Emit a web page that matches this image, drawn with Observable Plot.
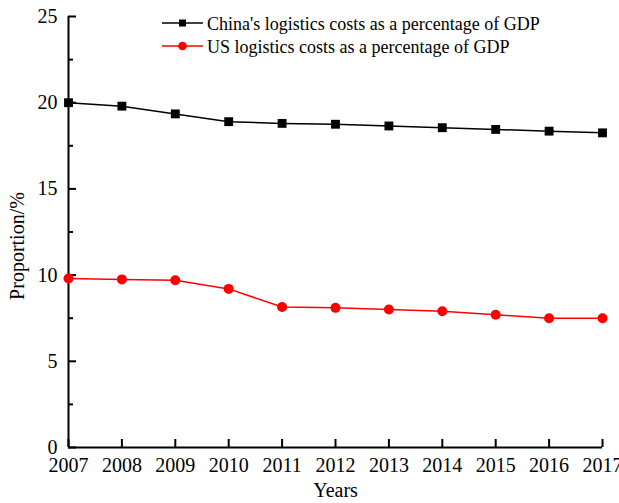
<!DOCTYPE html>
<html>
<head>
<meta charset="utf-8">
<script src="https://cdn.jsdelivr.net/npm/d3@7"></script>
<script src="https://cdn.jsdelivr.net/npm/@observablehq/plot@0.6"></script>
<style>
  html, body { margin: 0; padding: 0; background: #fff; }
  svg { display: block; }
</style>
</head>
<body>
<div id="chart"></div>
<script>
// Logistics costs as a share of GDP, China vs US
const years = [2007, 2008, 2009, 2010, 2011, 2012, 2013, 2014, 2015, 2016, 2017];
const chinaShare = [20.0, 19.8, 19.35, 18.9, 18.8, 18.75, 18.65, 18.55, 18.45, 18.35, 18.25];
const usShare = [9.8, 9.75, 9.7, 9.2, 8.15, 8.1, 8.0, 7.9, 7.7, 7.5, 7.5];
const seriesNames = [
  "China's logistics costs as a percentage of GDP",
  "US logistics costs as a percentage of GDP"
];
const seriesColors = ["#000000", "#ff0000"];
const seriesSymbols = ["square", "circle"];
const yTicks = [0, 5, 10, 15, 20, 25];
const yMinorTicks = [2.5, 7.5, 12.5, 17.5, 22.5];
const xTitle = "Years";
const yTitle = "Proportion/%";

const W = 619, H = 503;
const margin = {top: 16, right: 17, bottom: 56, left: 68};
const frameW = W - margin.left - margin.right;
const frameH = H - margin.top - margin.bottom;
const font = "'Liberation Serif', 'Times New Roman', serif";

const chinaRows = years.map((year, i) => ({year, value: chinaShare[i], series: seriesNames[0]}));
const usRows = years.map((year, i) => ({year, value: usShare[i], series: seriesNames[1]}));

const chart = Plot.plot({
  width: W,
  height: H,
  marginTop: margin.top,
  marginRight: margin.right,
  marginBottom: margin.bottom,
  marginLeft: margin.left,
  style: {fontFamily: font, fontSize: "20px", color: "#000", background: "#fff"},
  x: {domain: [years[0], years[years.length - 1]], axis: null},
  y: {domain: [yTicks[0], yTicks[yTicks.length - 1]], axis: null},
  color: {domain: seriesNames, range: seriesColors},
  marks: [
    // axis lines
    Plot.ruleX([years[0]], {stroke: "#000", strokeWidth: 2}),
    Plot.ruleY([yTicks[0]], {stroke: "#000", strokeWidth: 2}),
    // inward ticks
    Plot.tickY(yTicks, {y: d => d, stroke: "#000", strokeWidth: 2, insetRight: frameW - 8}),
    Plot.tickY(yMinorTicks, {y: d => d, stroke: "#000", strokeWidth: 2, insetRight: frameW - 5}),
    Plot.tickX(years, {x: d => d, stroke: "#000", strokeWidth: 2, insetTop: frameH - 8}),
    // tick labels
    Plot.axisY(yTicks, {tickSize: 0, tickPadding: 11, fontSize: 20, label: null}),
    Plot.axisX(years, {tickSize: 0, tickPadding: 10, fontSize: 20, tickFormat: d => String(d), label: null}),
    // axis titles
    Plot.text([xTitle], {frameAnchor: "bottom", dy: 49, fontSize: 20, text: d => d}),
    Plot.text([yTitle], {frameAnchor: "left", textAnchor: "middle", lineAnchor: "middle", dx: -51, dy: 14, rotate: -90, fontSize: 20, text: d => d}),
    // series
    Plot.line(chinaRows, {x: "year", y: "value", stroke: "series", strokeWidth: 1.5}),
    Plot.line(usRows, {x: "year", y: "value", stroke: "series", strokeWidth: 1.5}),
    Plot.dot(chinaRows, {x: "year", y: "value", fill: "series", symbol: () => seriesSymbols[0], r: 5, stroke: "none"}),
    Plot.dot(usRows, {x: "year", y: "value", fill: "series", symbol: () => seriesSymbols[1], r: 5, stroke: "none"})
  ]
});

// legend in the upper part of the plot area
const svg = d3.select(chart);
const legend = svg.append("g")
  .attr("font-family", font)
  .attr("font-size", 18)
  .attr("text-anchor", "start");
const legendRows = [23, 46];
seriesNames.forEach((name, i) => {
  const g = legend.append("g").attr("transform", `translate(162,${legendRows[i]})`);
  g.append("line").attr("x1", 0).attr("x2", 41).attr("y1", 0).attr("y2", 0)
    .attr("stroke", seriesColors[i]).attr("stroke-width", 1.5);
  if (seriesSymbols[i] === "square") {
    g.append("rect").attr("x", 20.5 - 3.5).attr("y", -3.5).attr("width", 7).attr("height", 7).attr("fill", seriesColors[i]);
  } else {
    g.append("circle").attr("cx", 20.5).attr("cy", 0).attr("r", 4.3).attr("fill", seriesColors[i]);
  }
  g.append("text").attr("x", 45).attr("y", 7).attr("text-anchor", "start").attr("fill", "#000").text(name);
});

document.getElementById("chart").appendChild(chart);
</script>
</body>
</html>
